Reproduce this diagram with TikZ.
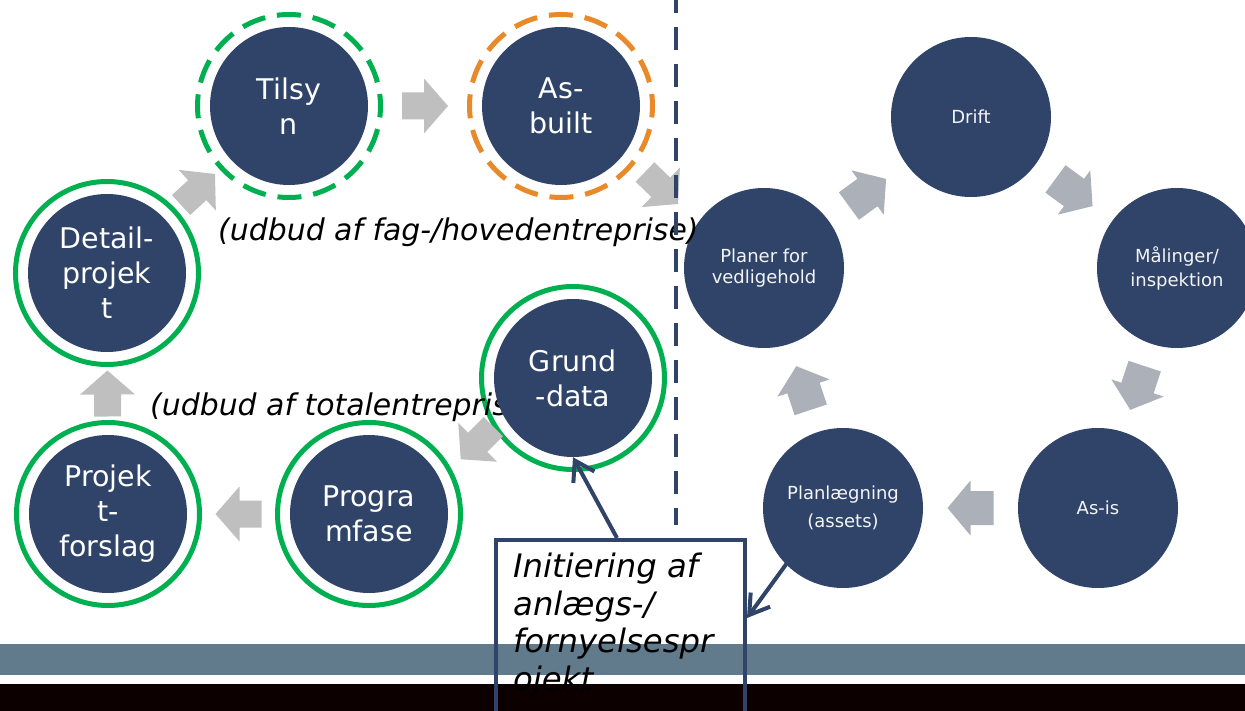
\documentclass[tikz,border=0pt]{standalone}
\usepackage{fontspec}
\setmainfont{DejaVu Sans}
\usetikzlibrary{calc,arrows.meta}
\definecolor{dk}{HTML}{2F4468}
\definecolor{grn}{HTML}{00B050}
\definecolor{org}{HTML}{E8892A}
\definecolor{lgray}{HTML}{BFBFBF}
\definecolor{rgray}{HTML}{ACB0B8}
\definecolor{band}{HTML}{617B8C}
\definecolor{blk}{HTML}{0C0000}
\begin{document}
\begin{tikzpicture}[x=1pt,y=-1pt,
  dkcirc/.style={circle, fill=dk, inner sep=0pt, minimum size=158pt, text=white, align=center,
    font=\fontsize{28.5}{35}\selectfont},
  rkcirc/.style={circle, fill=dk, inner sep=0pt, minimum size=160pt, text=white!94!dk, align=center,
    font=\fontsize{18}{24}\selectfont},
  solidring/.style={draw=grn, line width=5pt},
  dashring/.style={line width=5pt, dash pattern=on 24pt off 11.97pt, dash phase=12pt},
  italab/.style={anchor=base west, inner sep=0pt, font=\itshape\fontsize{29.9}{35}\selectfont},
  conn/.style={draw=dk, line width=4pt, -{Straight Barb[length=19pt,width=24pt]}},
  larrow/.pic={\fill[lgray] (-23,-13.5) -- (-1,-13.5) -- (-1,-27.5) -- (23,0) -- (-1,27.5) -- (-1,13.5) -- (-23,13.5) -- cycle;},
  rarrow/.pic={\fill[rgray] (-23,-17) -- (0,-17) -- (0,-27.5) -- (23,0) -- (0,27.5) -- (0,17) -- (-23,17) -- cycle;},
  garr/.style={midway, sloped, allow upside down}
]
\clip (0,0) rectangle (1245,711);
\fill[white] (0,0) rectangle (1245,711);
% bottom bands
\fill[band] (0,644) rectangle (1245,675);
\fill[blk] (0,684) rectangle (1245,711);
% ring of Grund-data (under the label text)
\coordinate (cgrund) at (573,378);
\draw[solidring] (cgrund) circle (91.5pt);
\node[italab] (lab2) at (150,415) {(udbud af totalentreprise)};
% left circles
\node[dkcirc] (tilsyn) at (289,106) {Tilsy\\n};
\node[dkcirc] (asbuilt) at (561,106) {As-\\built};
\node[dkcirc] (detail) at (107,273) {Detail-\\projek\\t};
\node[dkcirc] (forslag) at (108,514) {Projek\\t-\\forslag};
\node[dkcirc] (program) at (369,514) {Progra\\mfase};
\node[dkcirc] (grund) at (cgrund) {Grund\\-data};
% right circles
\node[rkcirc] (drift) at (971,117) {Drift};
\node[rkcirc] (maal) at (1177,268) {Målinger/\\inspektion};
\node[rkcirc] (asis) at (1098,508) {As-is};
\node[rkcirc, font=\fontsize{18}{28}\selectfont] (planl) at (843,508) {Planlægning\\(assets)};
\node[rkcirc, font=\fontsize{18}{21}\selectfont] (planer) at (764,268) {Planer for\\vedligehold};
% rings
\draw[solidring] (detail.center) circle (91.5pt);
\draw[solidring] (forslag.center) circle (91.5pt);
\draw[solidring] (program.center) circle (91.5pt);
\draw[dashring, draw=grn] (tilsyn.center) circle (91.5pt);
\draw[dashring, draw=org] (asbuilt.center) circle (91.5pt);
% gray block arrows, left cycle
\pic[rotate=-135] at ($(grund.center)!0.5!(program.center)+(6,-3)$) {larrow};
\path (program) -- (forslag) pic[garr] {larrow};
\path (forslag) -- (detail) pic[garr] {larrow};
\path (detail) -- (tilsyn) pic[garr] {larrow};
\path (tilsyn) -- (asbuilt) pic[garr] {larrow};
\pic[rotate=-44] at ($(asbuilt.center)!0.5!(planer.center)+(-1,1)$) {larrow};
% gray block arrows, right cycle
\path (planer) -- (drift) pic[garr] {rarrow};
\path (drift) -- (maal) pic[garr] {rarrow};
\path (maal) -- (asis) pic[garr] {rarrow};
\path (asis) -- (planl) pic[garr] {rarrow};
\path (planl) -- (planer) pic[garr] {rarrow};
% label
\node[italab] (lab1) at (218,241) {(udbud af fag-/hovedentreprise)};
% dashed divider
\coordinate (dtop) at (676,0);
\coordinate (dbot) at (676,525);
\draw[dk, line width=4.5pt, dash pattern=on 23pt off 14pt, dash phase=10pt] (dtop) -- (dbot);
% box
\node[draw=dk, line width=4pt, minimum width=249pt, minimum height=200pt, anchor=north west, inner sep=0pt] (box) at (494,538) {};
\node[anchor=north west, inner sep=0pt, align=left, font=\itshape\fontsize{32.3}{37.5}\selectfont] (boxtext) at (513,553) {Initiering af\\anlægs-/\\fornyelsespr\\ojekt};
\draw[conn] ($(box.north west)+(123,0)$) -- (grund.south);
\draw[conn] ($(planl.center)+(-45,40)$) -- ($(box.north east)+(0,80)$);
\end{tikzpicture}
\end{document}
